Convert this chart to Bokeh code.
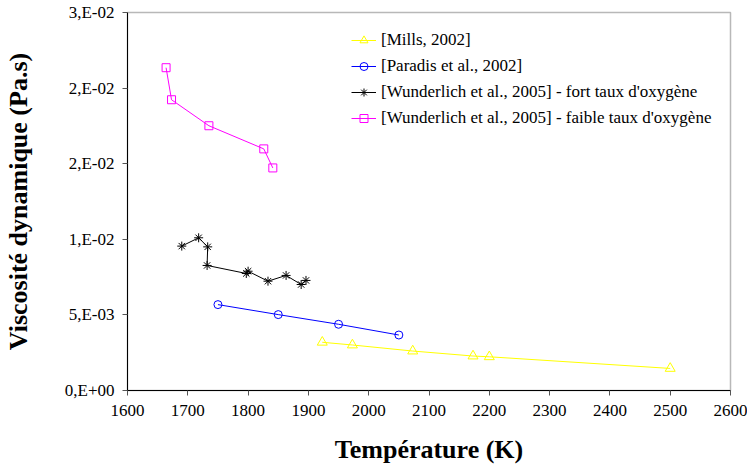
from bokeh.plotting import figure
from bokeh.models import FixedTicker, Range1d, Legend
from bokeh.embed import file_html
from bokeh.resources import INLINE

# Data
mills_T = [1923, 1973, 2073, 2173, 2200, 2500]
mills_mu = [0.00319, 0.00301, 0.00261, 0.00228, 0.00223, 0.00146]

paradis_T = [1750, 1850, 1950, 2050]
paradis_mu = [0.00568, 0.00502, 0.00438, 0.00367]

wund_fort_T = [1690, 1718, 1733, 1732, 1797, 1800, 1833, 1863, 1888, 1896]
wund_fort_mu = [0.00955, 0.01010, 0.00950, 0.00827, 0.00774, 0.00789, 0.00723, 0.00761, 0.00701, 0.00728]

wund_faible_T = [1664, 1673, 1735, 1826, 1841]
wund_faible_mu = [0.02135, 0.01923, 0.01751, 0.01598, 0.01472]

x_ticks = [1600, 1700, 1800, 1900, 2000, 2100, 2200, 2300, 2400, 2500, 2600]
y_ticks = [0.0, 0.005, 0.01, 0.015, 0.02, 0.025]
y_tick_labels = ["0,E+00", "5,E-03", "1,E-02", "2,E-02", "2,E-02", "3,E-02"]

labels = ["[Mills, 2002]", "[Paradis et al., 2002]",
          "[Wunderlich et al., 2005] - fort taux d'oxygène",
          "[Wunderlich et al., 2005] - faible taux d'oxygène"]

FONT = "Liberation Serif"

p = figure(width=747, height=467, output_backend="svg", toolbar_location=None,
           x_range=Range1d(1600, 2600), y_range=Range1d(0, 0.025),
           min_border_left=123, min_border_right=17, min_border_top=12, min_border_bottom=77)

p.xgrid.visible = False
p.ygrid.visible = False
p.outline_line_color = "#b8b8b8"
p.outline_line_width = 1.5
p.background_fill_color = "white"
p.border_fill_color = "white"

series = [
    (mills_T, mills_mu, "#FFFF00", "triangle", 10, labels[0]),
    (paradis_T, paradis_mu, "#0000FF", "circle", 8, labels[1]),
    (wund_fort_T, wund_fort_mu, "#000000", "asterisk", 9, labels[2]),
    (wund_faible_T, wund_faible_mu, "#FF00FF", "square", 8, labels[3]),
]

items = []
for xs, ys, col, mk, sz, lab in series:
    r1 = p.line(xs, ys, line_color=col, line_width=1)
    r2 = p.scatter(xs, ys, marker=mk, size=sz, line_color=col, fill_color=None, line_width=1)
    items.append((lab, [r1, r2]))

legend = Legend(items=items, location=(219, 257))
legend.label_text_font = FONT
legend.label_text_font_size = "17px"
legend.label_text_color = "black"
legend.background_fill_alpha = 0
legend.border_line_alpha = 0
legend.glyph_width = 25
legend.glyph_height = 20
legend.label_height = 20
legend.spacing = 6
legend.padding = 5
legend.margin = 0
legend.label_standoff = 5
p.add_layout(legend)

# X axis
xa = p.xaxis[0]
xa.ticker = FixedTicker(ticks=x_ticks)
xa.minor_tick_line_color = None
xa.major_tick_in = 0
xa.major_tick_out = 5
xa.axis_line_color = "black"
xa.major_tick_line_color = "#555555"
xa.major_label_text_font = FONT
xa.major_label_text_font_size = "17px"
xa.major_label_text_color = "black"
xa.major_label_standoff = 9
xa.axis_label = "Température (K)"
xa.axis_label_text_font = FONT
xa.axis_label_text_font_size = "26px"
xa.axis_label_text_font_style = "bold"
xa.axis_label_text_color = "black"
xa.axis_label_standoff = 16

# Y axis
ya = p.yaxis[0]
ya.ticker = FixedTicker(ticks=y_ticks)
ya.major_label_overrides = {t: l for t, l in zip(y_ticks, y_tick_labels)}
ya.minor_tick_line_color = None
ya.major_tick_in = 0
ya.major_tick_out = 5
ya.axis_line_color = "black"
ya.major_tick_line_color = "#555555"
ya.major_label_text_font = FONT
ya.major_label_text_font_size = "17px"
ya.major_label_text_color = "black"
ya.major_label_standoff = 8
ya.axis_label = "Viscosité dynamique (Pa.s)"
ya.axis_label_text_font = FONT
ya.axis_label_text_font_size = "26px"
ya.axis_label_text_font_style = "bold"
ya.axis_label_text_color = "black"
ya.axis_label_standoff = 29

open("out.html", "w").write(file_html(p, INLINE))
